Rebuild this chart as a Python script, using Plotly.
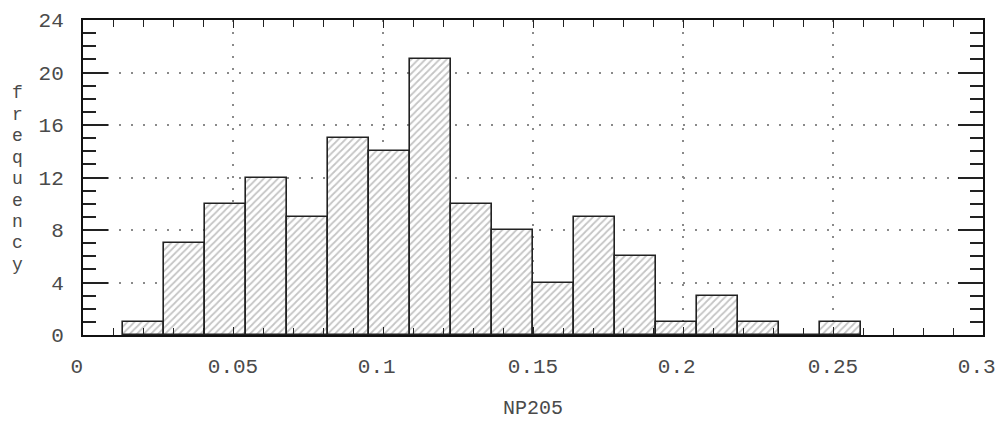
import plotly.graph_objects as go

# Histogram of NP205
bin_start = 0.01333
bin_width = 0.013667
counts = [1, 7, 10, 12, 9, 15, 14, 21, 10, 8, 4, 9, 6, 1, 3, 1, 0, 1]
x_tick_vals = [0, 0.05, 0.1, 0.15, 0.2, 0.25, 0.3]
x_tick_text = ["0\u00a0", "0.05", "0.1\u00a0", "0.15", "0.2\u00a0", "0.25", "0.3\u00a0"]
y_tick_vals = [0, 4, 8, 12, 16, 20, 24]
x_title = "NP205"
y_title = "frequency"

centers = [bin_start + bin_width * (i + 0.5) for i in range(len(counts))]

FONT = "Liberation Mono"
TXT = "#4a4a4a"

fig = go.Figure()
fig.add_trace(go.Bar(
    x=centers, y=counts, width=[bin_width] * len(counts),
    marker=dict(
        color="white",
        line=dict(color="#222222", width=1.6),
        pattern=dict(shape="/", fgcolor="#8a8a8a", bgcolor="white", size=5, solidity=0.35),
    ),
    hoverinfo="x+y",
))

fig.update_layout(
    width=995, height=426,
    margin=dict(l=83, r=12, t=20, b=91),
    paper_bgcolor="white", plot_bgcolor="white",
    showlegend=False,
    bargap=0,
    font=dict(family=FONT, color=TXT, size=14),
)

fig.update_xaxes(
    range=[0, 0.3], tickvals=x_tick_vals, ticktext=x_tick_text,
    automargin=False, ticklabeloverflow="allow",
    showline=True, linecolor="#111111", linewidth=2, mirror="ticks",
    ticks="inside", ticklen=8, tickcolor="#222222", tickwidth=1,
    minor=dict(dtick=0.01, ticks="inside", ticklen=7, tickcolor="#222222", showgrid=False),
    showgrid=True, gridcolor="#8a8a8a", gridwidth=1.5, griddash="2px,10px",
    zeroline=False, ticklabelstandoff=11,
    title=dict(text=x_title, font=dict(family=FONT, size=20, color=TXT), standoff=22),
    tickfont=dict(family=FONT, size=21, color=TXT),
)
fig.update_yaxes(
    range=[0, 24], tickvals=y_tick_vals,
    automargin=False,
    showline=True, linecolor="#111111", linewidth=2, mirror="ticks",
    ticks="inside", ticklen=25, tickcolor="#222222", tickwidth=1.5,
    minor=dict(dtick=1, ticks="inside", ticklen=13, tickcolor="#222222", showgrid=False),
    showgrid=True, gridcolor="#8a8a8a", gridwidth=1.5, griddash="2px,10px",
    zeroline=False, ticklabelstandoff=13,
    tickfont=dict(family=FONT, size=21, color=TXT),
)

# vertical stacked y-axis title
for i, ch in enumerate(y_title):
    fig.add_annotation(
        text=ch, xref="paper", yref="paper",
        x=(17 - 83) / 900.0, y=(335 - (93 + 21.5 * i)) / 315.0,
        xanchor="center", yanchor="middle", showarrow=False,
        font=dict(family=FONT, size=18, color=TXT),
    )

fig.write_html(
    "out.html",
    config={"displayModeBar": False},
    post_script="document.body.style.margin='0';document.body.style.overflow='hidden';",
)
